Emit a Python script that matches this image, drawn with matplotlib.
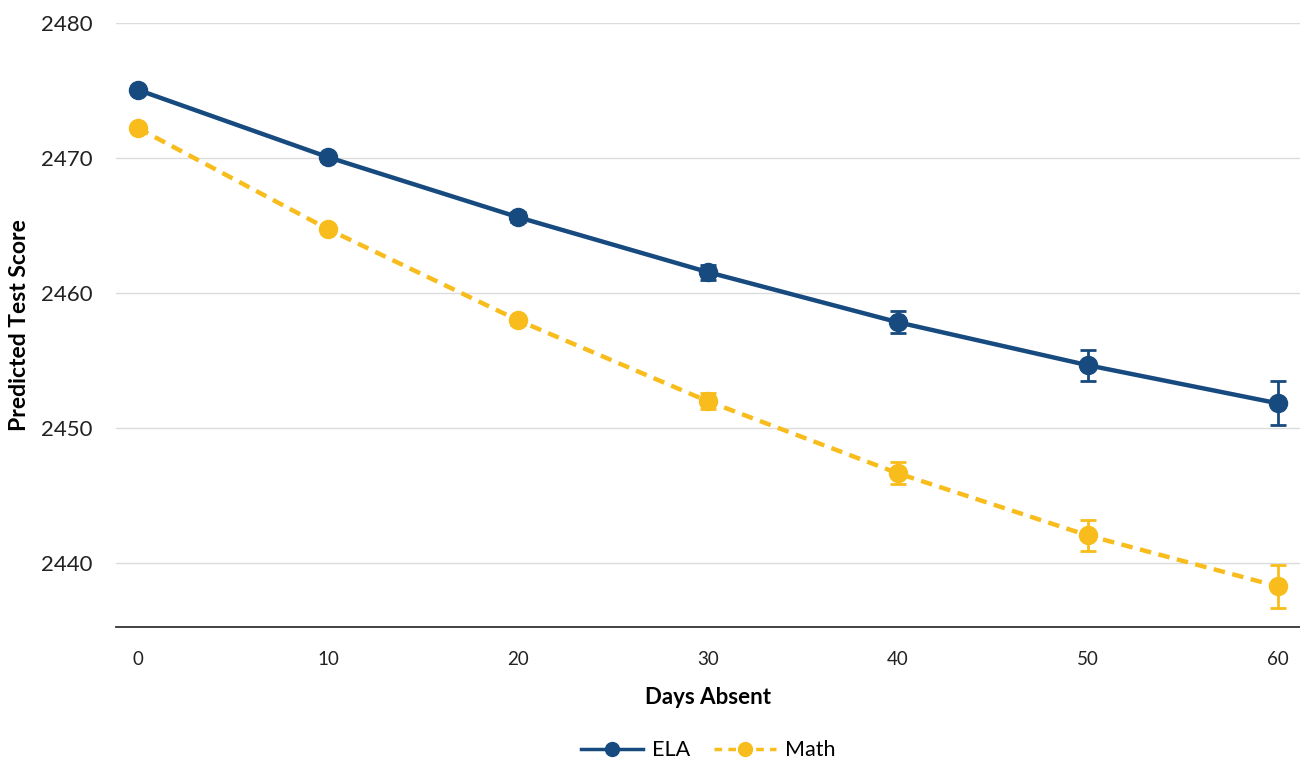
import numpy as np
import matplotlib as mpl
import matplotlib.pyplot as plt
from matplotlib.lines import Line2D

mpl.rcParams["font.family"] = ["Lato", "DejaVu Sans"]

days = [0, 10, 20, 30, 40, 50, 60]

ela = [2475.05, 2470.07, 2465.63, 2461.56, 2457.85, 2454.67, 2451.85]
ela_err = [0.2, 0.25, 0.35, 0.55, 0.8, 1.15, 1.62]

math = [2472.22, 2464.74, 2458.0, 2452.0, 2446.67, 2442.07, 2438.3]
math_err = [0.2, 0.25, 0.35, 0.6, 0.82, 1.13, 1.6]

yticks = [2440, 2450, 2460, 2470, 2480]

blue = "#174a7e"
gold = "#f8bd1c"
dash = (0, (2.6, 1.7))

fig = plt.figure(figsize=(13, 7.66), dpi=100)
ax = fig.add_axes([0.0892, 0.1815, 0.9108, 0.7885])

# math first so ELA sits on top
ax.errorbar(days, math, yerr=math_err, color=gold, lw=3.2, ls=dash,
            marker="o", ms=13, elinewidth=2, capsize=6, capthick=2, zorder=3)
ax.errorbar(days, ela, yerr=ela_err, color=blue, lw=3.2, ls="-",
            marker="o", ms=13, elinewidth=2, capsize=6, capthick=2, zorder=4)

ax.set_xlim(-1.16, 61.16)
ax.set_ylim(2435.3, 2480.0)
ax.set_yticks(yticks)
ax.set_xticks(days)
ax.grid(axis="y", color="#dcdcdc", lw=1)
ax.set_axisbelow(True)
for s in ["top", "right", "left"]:
    ax.spines[s].set_visible(False)
ax.spines["bottom"].set_color("#333333")
ax.spines["bottom"].set_linewidth(1.3)
ax.tick_params(axis="y", length=0, pad=17, labelsize=16, labelcolor="#222222")
ax.tick_params(axis="x", length=0, pad=17, labelsize=13.5, labelcolor="#222222")

ax.set_xlabel("Days Absent", fontsize=16, fontweight="bold", labelpad=14)
ax.set_ylabel("Predicted Test Score", fontsize=16.5, fontweight="bold")
ax.yaxis.set_label_coords(-0.073, 0.5)

# legend proxies with smaller markers, as in the original
leg_handles = [
    Line2D([], [], color=blue, lw=2.5, ls="-", marker="o", ms=10),
    Line2D([], [], color=gold, lw=2.5, ls=(0, (2.2, 1.8)), marker="o", ms=10),
]
ax.legend(leg_handles, ["ELA", "Math"], loc="center",
          bbox_to_anchor=(0.5, -0.204), ncol=2, frameon=False, fontsize=15.5,
          handlelength=2.9, columnspacing=1.1, handletextpad=0.4)

fig.savefig("out.png", dpi=100)
